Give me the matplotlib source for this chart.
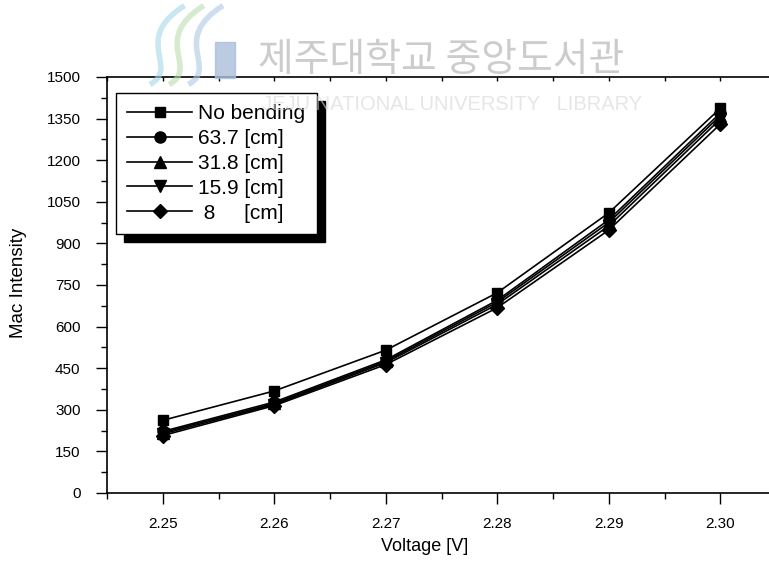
import matplotlib
matplotlib.use("Agg")
import matplotlib.pyplot as plt
import numpy as np
from matplotlib.ticker import MultipleLocator, NullFormatter
from matplotlib.path import Path
from matplotlib.patches import PathPatch, Rectangle

plt.rcParams['font.family'] = ['Liberation Sans', 'DejaVu Sans']

# ---------------------------
# data
# ---------------------------
voltage = [2.25, 2.26, 2.27, 2.28, 2.29, 2.30]
no_bending = [262, 368, 515, 722, 1010, 1387]
r_63_7 = [222, 328, 480, 695, 985, 1370]
r_31_8 = [218, 323, 475, 688, 975, 1360]
r_15_9 = [213, 319, 470, 680, 963, 1348]
r_8 = [207, 315, 463, 668, 948, 1330]

series = [no_bending, r_63_7, r_31_8, r_15_9, r_8]
labels = ["No bending", "63.7 [cm]", "31.8 [cm]", "15.9 [cm]", " 8     [cm]"]
markers = ["s", "o", "^", "v", "D"]
msizes = [7, 8, 8, 8, 7]

fig = plt.figure(figsize=(7.69, 5.63), dpi=100)
ax = fig.add_axes([107 / 769, 70 / 563, 669 / 769, 416 / 563])

for y, lab, m, ms in zip(series, labels, markers, msizes):
    ax.plot(voltage, y, color='black', lw=1.2, marker=m, ms=ms,
            mfc='black', mec='black', label=lab)

ax.set_xlim(2.245, 2.305)
ax.set_ylim(0, 1500)
ax.set_xticks(voltage)
ax.set_xticklabels([f"{v:.2f}" for v in voltage])
ax.xaxis.set_minor_locator(MultipleLocator(0.005))
ax.yaxis.set_major_locator(MultipleLocator(150))
ax.yaxis.set_minor_locator(MultipleLocator(75))

ax.tick_params(axis='both', which='major', direction='out', length=8,
               width=1, labelsize=11)
ax.tick_params(axis='x', which='major', pad=9)
ax.tick_params(axis='y', which='major', pad=11)
ax.tick_params(axis='both', which='minor', direction='out', length=4, width=1)
ax.spines['right'].set_visible(False)
ax.spines['top'].set_visible(False)
for s in ['left', 'bottom']:
    ax.spines[s].set_linewidth(1.2)

# top axis: small inward ticks, no labels
top = ax.secondary_xaxis('top')
top.set_xticks(voltage)
top.xaxis.set_minor_locator(MultipleLocator(0.005))
top.xaxis.set_major_formatter(NullFormatter())
top.tick_params(axis='x', which='both', direction='in', length=3, width=1)
top.spines['top'].set_linewidth(1.2)

ax.set_xlabel("Voltage [V]", fontsize=13)
ax.set_ylabel("Mac Intensity", fontsize=13.5)
ax.xaxis.set_label_coords((425 - 107) / 669, -(538 - 493) / 416)
ax.yaxis.set_label_coords(-(107 - 27) / 669, (493 - 283) / 416)

leg = ax.legend(loc='upper left', bbox_to_anchor=(0.0135, 0.962),
                borderaxespad=0, fancybox=False, frameon=True,
                edgecolor='black', framealpha=1, fontsize=15,
                handlelength=3.1, handletextpad=0.3, labelspacing=0.28,
                borderpad=0.55,
                shadow={'ox': 6, 'oy': -6, 'facecolor': 'black',
                        'edgecolor': 'black', 'alpha': 1})
leg.get_frame().set_linewidth(1.0)

# library watermark
fig.text(258 / 769, 1 - 60 / 563, "제주대학교 중앙도서관", fontsize=28,
         family=['Noto Sans CJK KR', 'DejaVu Sans'], color='#c4c4c4',
         ha='left', va='center', alpha=0.85, zorder=10)
fig.text(262 / 769, 1 - 104 / 563, "JEJU NATIONAL UNIVERSITY   LIBRARY",
         fontsize=14.5, color='#d6d6d6', ha='left', va='center',
         alpha=0.6, zorder=10)
fig.patches.append(Rectangle((215 / 769, 1 - 78 / 563), 20 / 769, 36 / 563,
                             transform=fig.transFigure, color='#a9bedb',
                             alpha=0.8, zorder=9))
for (x0, col) in [(0.235, '#a6d8e8'), (0.26, '#bcdcaf'), (0.285, '#b0c8e4')]:
    p = Path([(x0 + 0.005, 0.99), (x0 - 0.065, 0.93), (x0 + 0.0, 0.88),
              (x0 - 0.04, 0.85)],
             [Path.MOVETO, Path.CURVE4, Path.CURVE4, Path.CURVE4])
    fig.patches.append(PathPatch(p, transform=fig.transFigure, fill=False,
                                 edgecolor=col, lw=4, alpha=0.6, zorder=9))

fig.savefig("out.png", dpi=100)
